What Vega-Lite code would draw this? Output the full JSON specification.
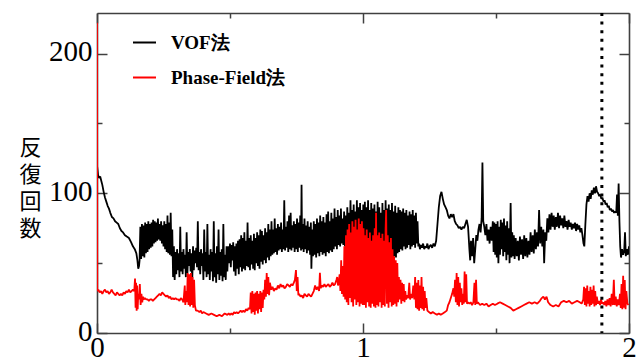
{
  "$schema": "https://vega.github.io/schema/vega-lite/v6.json",
  "width": 532,
  "height": 320,
  "autosize": {"type": "none"},
  "padding": {"left": 97, "top": 13, "right": 7, "bottom": 24},
  "background": "white",
  "config": {
    "view": {"stroke": null},
    "axis": {"domainColor": "#404040", "domainWidth": 1.6, "tickColor": "#404040", "tickWidth": 1.5, "grid": false, "labelFont": "Liberation Serif", "labelFontSize": 29, "labelColor": "black"}
  },
  "datasets": {
    "vof": [
      {"t":0,"n":120},{"t":0.004,"n":113},{"t":0.008,"n":111},{"t":0.012,"n":112},{"t":0.016,"n":109},{"t":0.02,"n":106},{"t":0.025,"n":101},{"t":0.03,"n":97},{"t":0.035,"n":94},{"t":0.04,"n":91},{"t":0.045,"n":89},{"t":0.05,"n":86},{"t":0.056,"n":83},{"t":0.062,"n":82},{"t":0.068,"n":80},{"t":0.074,"n":79},{"t":0.08,"n":78},{"t":0.086,"n":75},{"t":0.092,"n":73},{"t":0.098,"n":72},{"t":0.105,"n":70},{"t":0.112,"n":69},{"t":0.12,"n":68},{"t":0.128,"n":65},{"t":0.135,"n":62},{"t":0.142,"n":60},{"t":0.148,"n":57},{"t":0.152,"n":52},{"t":0.155,"n":46},{"t":0.158,"n":48},{"t":0.16,"n":52},
      {"t":0.163,"n":76},{"t":0.166,"n":53},{"t":0.169,"n":78},{"t":0.172,"n":55},{"t":0.175,"n":77},{"t":0.178,"n":54},{"t":0.181,"n":79},{"t":0.184,"n":57},{"t":0.187,"n":78},{"t":0.19,"n":58},{"t":0.193,"n":80},{"t":0.196,"n":60},{"t":0.199,"n":78},{"t":0.202,"n":61},{"t":0.205,"n":79},{"t":0.208,"n":62},{"t":0.211,"n":81},{"t":0.214,"n":64},{"t":0.217,"n":80},{"t":0.22,"n":65},{"t":0.223,"n":79},{"t":0.226,"n":66},{"t":0.229,"n":82},{"t":0.232,"n":67},{"t":0.235,"n":78},{"t":0.238,"n":66},{"t":0.241,"n":80},{"t":0.244,"n":64},{"t":0.247,"n":77},{"t":0.25,"n":62},{"t":0.253,"n":80},{"t":0.256,"n":60},{"t":0.259,"n":78},{"t":0.262,"n":58},{"t":0.265,"n":84},{"t":0.268,"n":57},{"t":0.271,"n":79},{"t":0.274,"n":56},{"t":0.277,"n":86},{"t":0.28,"n":55},{"t":0.283,"n":74},{"t":0.286,"n":40},{"t":0.289,"n":62},{"t":0.292,"n":38},
      {"t":0.295,"n":58},{"t":0.298,"n":42},{"t":0.301,"n":60},{"t":0.304,"n":45},{"t":0.307,"n":57},{"t":0.31,"n":40},{"t":0.313,"n":76},{"t":0.316,"n":44},{"t":0.319,"n":58},{"t":0.322,"n":42},{"t":0.325,"n":60},{"t":0.328,"n":46},{"t":0.331,"n":56},{"t":0.334,"n":40},{"t":0.337,"n":72},{"t":0.34,"n":43},{"t":0.343,"n":58},{"t":0.346,"n":48},{"t":0.349,"n":60},{"t":0.352,"n":44},{"t":0.355,"n":57},{"t":0.358,"n":37},{"t":0.361,"n":62},{"t":0.364,"n":45},{"t":0.367,"n":59},{"t":0.37,"n":50},{"t":0.373,"n":61},{"t":0.376,"n":47},{"t":0.379,"n":80},{"t":0.382,"n":45},{"t":0.385,"n":58},{"t":0.388,"n":42},{"t":0.391,"n":60},{"t":0.394,"n":48},{"t":0.397,"n":57},{"t":0.4,"n":38},{"t":0.403,"n":74},{"t":0.406,"n":44},{"t":0.409,"n":58},{"t":0.412,"n":40},{"t":0.415,"n":78},{"t":0.418,"n":42},{"t":0.421,"n":56},{"t":0.424,"n":38},{"t":0.427,"n":60},{"t":0.43,"n":44},{"t":0.433,"n":58},{"t":0.436,"n":37},{"t":0.439,"n":80},{"t":0.442,"n":40},{"t":0.445,"n":57},{"t":0.448,"n":36},{"t":0.451,"n":62},{"t":0.454,"n":42},{"t":0.457,"n":74},{"t":0.46,"n":38},{"t":0.463,"n":58},{"t":0.466,"n":41},{"t":0.469,"n":60},{"t":0.472,"n":37},{"t":0.475,"n":78},{"t":0.478,"n":40},{"t":0.481,"n":56},{"t":0.484,"n":38},{"t":0.487,"n":62},{"t":0.49,"n":44},
      {"t":0.494,"n":62},{"t":0.497,"n":50},{"t":0.5,"n":64},{"t":0.503,"n":47},{"t":0.506,"n":63},{"t":0.509,"n":52},{"t":0.512,"n":65},{"t":0.515,"n":44},{"t":0.518,"n":62},{"t":0.521,"n":41},{"t":0.524,"n":64},{"t":0.527,"n":46},{"t":0.53,"n":66},{"t":0.533,"n":42},{"t":0.536,"n":67},{"t":0.539,"n":47},{"t":0.542,"n":70},{"t":0.545,"n":44},{"t":0.548,"n":68},{"t":0.551,"n":46},{"t":0.554,"n":72},{"t":0.557,"n":45},{"t":0.56,"n":66},{"t":0.563,"n":48},{"t":0.566,"n":79},{"t":0.569,"n":47},{"t":0.572,"n":68},{"t":0.575,"n":45},{"t":0.578,"n":70},{"t":0.581,"n":49},{"t":0.584,"n":66},{"t":0.587,"n":46},{"t":0.59,"n":71},{"t":0.593,"n":45},{"t":0.596,"n":68},{"t":0.599,"n":50},{"t":0.602,"n":72},{"t":0.605,"n":48},{"t":0.608,"n":70},{"t":0.611,"n":46},{"t":0.614,"n":74},{"t":0.617,"n":51},{"t":0.62,"n":73},{"t":0.623,"n":49},{"t":0.626,"n":70},{"t":0.629,"n":52},{"t":0.632,"n":75},{"t":0.635,"n":50},{"t":0.638,"n":72},{"t":0.641,"n":54},{"t":0.644,"n":78},{"t":0.647,"n":52},{"t":0.65,"n":74},{"t":0.653,"n":55},{"t":0.656,"n":80},{"t":0.659,"n":56},{"t":0.662,"n":74},{"t":0.665,"n":57},{"t":0.668,"n":82},{"t":0.671,"n":58},{"t":0.674,"n":75},{"t":0.677,"n":56},{"t":0.68,"n":78},{"t":0.683,"n":59},{"t":0.686,"n":76},{"t":0.689,"n":60},{"t":0.692,"n":79},{"t":0.695,"n":58},{"t":0.698,"n":74},{"t":0.701,"n":60},{"t":0.704,"n":95},{"t":0.707,"n":59},{"t":0.71,"n":76},{"t":0.713,"n":61},{"t":0.716,"n":80},{"t":0.719,"n":58},{"t":0.722,"n":84},{"t":0.725,"n":60},{"t":0.728,"n":86},{"t":0.731,"n":59},{"t":0.734,"n":77},{"t":0.737,"n":61},{"t":0.74,"n":80},{"t":0.743,"n":58},
      {"t":0.746,"n":78},{"t":0.749,"n":60},{"t":0.752,"n":82},{"t":0.755,"n":58},{"t":0.758,"n":79},{"t":0.761,"n":61},{"t":0.764,"n":84},{"t":0.767,"n":59},{"t":0.769,"n":106},{"t":0.771,"n":60},{"t":0.774,"n":78},{"t":0.777,"n":58},{"t":0.78,"n":82},{"t":0.783,"n":60},{"t":0.786,"n":77},{"t":0.789,"n":57},{"t":0.792,"n":80},{"t":0.795,"n":59},{"t":0.798,"n":76},{"t":0.801,"n":56},{"t":0.804,"n":79},{"t":0.806,"n":46},{"t":0.809,"n":74},{"t":0.812,"n":55},{"t":0.815,"n":80},{"t":0.818,"n":56},{"t":0.821,"n":78},{"t":0.824,"n":54},{"t":0.827,"n":82},{"t":0.83,"n":57},{"t":0.833,"n":79},{"t":0.836,"n":55},{"t":0.839,"n":84},{"t":0.842,"n":58},{"t":0.845,"n":80},{"t":0.848,"n":56},{"t":0.851,"n":83},{"t":0.854,"n":57},{"t":0.857,"n":79},{"t":0.86,"n":55},{"t":0.863,"n":85},{"t":0.866,"n":58},{"t":0.869,"n":87},{"t":0.872,"n":57},{"t":0.875,"n":80},{"t":0.878,"n":59},{"t":0.881,"n":86},{"t":0.884,"n":58},{"t":0.887,"n":82},{"t":0.89,"n":60},{"t":0.893,"n":89},{"t":0.896,"n":62},{"t":0.899,"n":83},{"t":0.902,"n":60},{"t":0.905,"n":88},{"t":0.908,"n":63},{"t":0.911,"n":84},{"t":0.914,"n":62},{"t":0.917,"n":89},{"t":0.92,"n":64},{"t":0.923,"n":82},{"t":0.926,"n":63},{"t":0.929,"n":87},{"t":0.932,"n":62},{"t":0.935,"n":84},{"t":0.938,"n":64},{"t":0.941,"n":90},{"t":0.944,"n":62},{"t":0.947,"n":86},{"t":0.95,"n":61},{"t":0.953,"n":95},{"t":0.956,"n":60},{"t":0.959,"n":88},{"t":0.962,"n":62},{"t":0.965,"n":92},{"t":0.968,"n":60},{"t":0.971,"n":87},{"t":0.974,"n":61},{"t":0.977,"n":95},{"t":0.98,"n":60},{"t":0.983,"n":90},{"t":0.986,"n":58},{"t":0.989,"n":93},{"t":0.992,"n":56},{"t":0.995,"n":88},{"t":0.998,"n":54},
      {"t":1.001,"n":92},{"t":1.004,"n":50},{"t":1.007,"n":94},{"t":1.01,"n":49},{"t":1.013,"n":90},{"t":1.016,"n":52},{"t":1.019,"n":95},{"t":1.022,"n":48},{"t":1.025,"n":88},{"t":1.028,"n":51},{"t":1.031,"n":93},{"t":1.034,"n":49},{"t":1.037,"n":89},{"t":1.04,"n":53},{"t":1.043,"n":92},{"t":1.046,"n":50},{"t":1.049,"n":87},{"t":1.052,"n":51},{"t":1.055,"n":94},{"t":1.058,"n":49},{"t":1.061,"n":90},{"t":1.064,"n":52},{"t":1.067,"n":86},{"t":1.07,"n":50},{"t":1.073,"n":93},{"t":1.076,"n":51},{"t":1.079,"n":88},{"t":1.082,"n":53},{"t":1.085,"n":95},{"t":1.088,"n":50},{"t":1.091,"n":89},{"t":1.094,"n":52},{"t":1.097,"n":92},{"t":1.1,"n":51},{"t":1.103,"n":88},{"t":1.106,"n":54},{"t":1.109,"n":93},{"t":1.112,"n":53},{"t":1.115,"n":87},{"t":1.118,"n":55},{"t":1.121,"n":91},{"t":1.124,"n":54},{"t":1.127,"n":86},{"t":1.13,"n":57},{"t":1.133,"n":90},{"t":1.136,"n":58},{"t":1.139,"n":88},{"t":1.142,"n":60},{"t":1.145,"n":87},{"t":1.148,"n":59},{"t":1.151,"n":89},{"t":1.154,"n":62},{"t":1.157,"n":86},{"t":1.16,"n":60},{"t":1.163,"n":88},{"t":1.166,"n":61},{"t":1.169,"n":84},{"t":1.172,"n":63},{"t":1.175,"n":87},{"t":1.178,"n":60},{"t":1.181,"n":85},{"t":1.184,"n":62},{"t":1.187,"n":88},{"t":1.19,"n":63},{"t":1.193,"n":84},{"t":1.196,"n":61},{"t":1.199,"n":86},{"t":1.202,"n":64},{"t":1.205,"n":80},{"t":1.208,"n":62},
      {"t":1.211,"n":64},{"t":1.214,"n":60},{"t":1.218,"n":63},{"t":1.222,"n":61},{"t":1.226,"n":64},{"t":1.23,"n":60},{"t":1.234,"n":62},{"t":1.238,"n":61},{"t":1.242,"n":64},{"t":1.246,"n":60},{"t":1.25,"n":62},{"t":1.255,"n":63},{"t":1.26,"n":61},{"t":1.265,"n":64},{"t":1.27,"n":62},{"t":1.275,"n":66},{"t":1.28,"n":78},{"t":1.285,"n":90},{"t":1.29,"n":98},{"t":1.295,"n":101},{"t":1.3,"n":96},{"t":1.305,"n":92},{"t":1.31,"n":90},{"t":1.315,"n":88},{"t":1.32,"n":84},{"t":1.325,"n":82},{"t":1.33,"n":85},{"t":1.335,"n":83},{"t":1.34,"n":85},{"t":1.345,"n":80},{"t":1.35,"n":78},{"t":1.355,"n":77},{"t":1.36,"n":75},{"t":1.365,"n":76},{"t":1.37,"n":74},{"t":1.375,"n":76},{"t":1.38,"n":75},{"t":1.385,"n":78},{"t":1.39,"n":81},{"t":1.395,"n":76},{"t":1.4,"n":60},{"t":1.403,"n":52},{"t":1.406,"n":66},{"t":1.41,"n":55},{"t":1.414,"n":68},{"t":1.418,"n":50},{"t":1.422,"n":60},{"t":1.426,"n":70},{"t":1.43,"n":66},{"t":1.434,"n":74},{"t":1.438,"n":78},{"t":1.442,"n":72},{"t":1.446,"n":82},{"t":1.449,"n":122},{"t":1.452,"n":80},{"t":1.456,"n":76},{"t":1.46,"n":70},{"t":1.464,"n":78},{"t":1.468,"n":66},{"t":1.472,"n":74},{"t":1.476,"n":64},{"t":1.48,"n":76},{"t":1.484,"n":66},
      {"t":1.488,"n":80},{"t":1.491,"n":58},{"t":1.494,"n":79},{"t":1.497,"n":56},{"t":1.5,"n":78},{"t":1.503,"n":54},{"t":1.506,"n":80},{"t":1.509,"n":50},{"t":1.512,"n":76},{"t":1.515,"n":56},{"t":1.518,"n":81},{"t":1.521,"n":60},{"t":1.524,"n":79},{"t":1.527,"n":55},{"t":1.53,"n":82},{"t":1.533,"n":58},{"t":1.536,"n":77},{"t":1.539,"n":52},{"t":1.542,"n":80},{"t":1.545,"n":56},{"t":1.548,"n":75},{"t":1.551,"n":50},{"t":1.555,"n":93},{"t":1.558,"n":54},{"t":1.561,"n":72},{"t":1.564,"n":55},{"t":1.567,"n":70},{"t":1.57,"n":53},{"t":1.574,"n":68},{"t":1.578,"n":55},{"t":1.582,"n":66},{"t":1.586,"n":52},{"t":1.59,"n":69},{"t":1.594,"n":56},{"t":1.598,"n":67},{"t":1.602,"n":53},{"t":1.606,"n":70},{"t":1.61,"n":55},{"t":1.614,"n":68},{"t":1.618,"n":54},{"t":1.622,"n":66},{"t":1.626,"n":56},{"t":1.63,"n":72},{"t":1.634,"n":58},{"t":1.638,"n":70},{"t":1.642,"n":57},{"t":1.646,"n":74},{"t":1.65,"n":60},{"t":1.654,"n":72},{"t":1.658,"n":62},{"t":1.662,"n":88},{"t":1.666,"n":64},{"t":1.67,"n":76},{"t":1.674,"n":62},{"t":1.678,"n":74},{"t":1.681,"n":50},{"t":1.685,"n":72},{"t":1.689,"n":66},{"t":1.693,"n":82},{"t":1.697,"n":72},{"t":1.701,"n":85},{"t":1.705,"n":74},{"t":1.709,"n":86},{"t":1.713,"n":76},{"t":1.717,"n":84},{"t":1.721,"n":74},{"t":1.725,"n":83},{"t":1.729,"n":76},{"t":1.733,"n":86},{"t":1.737,"n":75},{"t":1.741,"n":84},{"t":1.745,"n":77},{"t":1.749,"n":82},{"t":1.753,"n":75},{"t":1.757,"n":84},{"t":1.761,"n":76},{"t":1.765,"n":80},{"t":1.769,"n":74},{"t":1.773,"n":81},{"t":1.777,"n":76},{"t":1.781,"n":79},{"t":1.785,"n":74},{"t":1.789,"n":78},{"t":1.793,"n":75},{"t":1.797,"n":79},{"t":1.801,"n":73},{"t":1.805,"n":78},{"t":1.809,"n":74},{"t":1.813,"n":77},{"t":1.817,"n":72},{"t":1.821,"n":75},{"t":1.825,"n":70},{"t":1.829,"n":64},{"t":1.832,"n":62},{"t":1.836,"n":78},{"t":1.84,"n":92},{"t":1.844,"n":98},{"t":1.848,"n":94},{"t":1.852,"n":100},{"t":1.856,"n":96},{"t":1.86,"n":102},{"t":1.864,"n":99},{"t":1.868,"n":104},{"t":1.872,"n":100},{"t":1.876,"n":105},{"t":1.88,"n":101},{"t":1.884,"n":100},{"t":1.888,"n":98},{"t":1.892,"n":99},{"t":1.896,"n":96},{"t":1.9,"n":97},{"t":1.904,"n":94},{"t":1.908,"n":95},{"t":1.912,"n":92},{"t":1.916,"n":93},{"t":1.92,"n":90},{"t":1.924,"n":91},{"t":1.928,"n":88},{"t":1.932,"n":89},{"t":1.936,"n":87},{"t":1.94,"n":88},{"t":1.944,"n":86},{"t":1.948,"n":87},{"t":1.952,"n":86},{"t":1.955,"n":99},{"t":1.958,"n":84},{"t":1.961,"n":107},{"t":1.964,"n":80},{"t":1.967,"n":62},{"t":1.97,"n":54},{"t":1.974,"n":60},{"t":1.978,"n":56},{"t":1.982,"n":59},{"t":1.985,"n":72},{"t":1.988,"n":55},{"t":1.992,"n":60},{"t":1.996,"n":56},{"t":2.0,"n":62}
    ],
    "pf": [
      {"t":0,"n":222},{"t":0.001,"n":30},{"t":0.005,"n":31},{"t":0.01,"n":29},{"t":0.015,"n":30},{"t":0.02,"n":28},{"t":0.025,"n":30},{"t":0.03,"n":31},{"t":0.035,"n":29},{"t":0.04,"n":30},{"t":0.045,"n":28},{"t":0.05,"n":29},{"t":0.055,"n":31},{"t":0.06,"n":29},{"t":0.065,"n":28},{"t":0.07,"n":27},{"t":0.075,"n":29},{"t":0.08,"n":28},{"t":0.085,"n":27},{"t":0.09,"n":28},{"t":0.095,"n":27},{"t":0.1,"n":29},{"t":0.105,"n":28},{"t":0.11,"n":30},{"t":0.115,"n":29},{"t":0.12,"n":31},{"t":0.125,"n":29},{"t":0.13,"n":30},{"t":0.135,"n":31},{"t":0.14,"n":30},{"t":0.143,"n":39},{"t":0.145,"n":18},{"t":0.147,"n":36},{"t":0.149,"n":16},{"t":0.151,"n":34},{"t":0.153,"n":17},{"t":0.155,"n":28},{"t":0.158,"n":24},{"t":0.161,"n":35},{"t":0.164,"n":20},{"t":0.167,"n":28},{"t":0.17,"n":22},{"t":0.173,"n":26},{"t":0.176,"n":24},{"t":0.18,"n":25},{"t":0.185,"n":24},{"t":0.19,"n":24},{"t":0.195,"n":23},{"t":0.2,"n":24},{"t":0.205,"n":24},{"t":0.21,"n":23},{"t":0.215,"n":24},{"t":0.22,"n":25},{"t":0.225,"n":26},{"t":0.23,"n":27},{"t":0.235,"n":28},{"t":0.24,"n":27},{"t":0.245,"n":29},{"t":0.25,"n":28},{"t":0.255,"n":27},{"t":0.26,"n":26},{"t":0.265,"n":27},{"t":0.27,"n":25},{"t":0.275,"n":26},{"t":0.28,"n":24},{"t":0.285,"n":25},{"t":0.29,"n":24},{"t":0.295,"n":25},{"t":0.3,"n":24},{"t":0.305,"n":24},{"t":0.31,"n":23},{"t":0.315,"n":25},{"t":0.32,"n":24},{"t":0.325,"n":22},{"t":0.33,"n":34},{"t":0.332,"n":20},{"t":0.335,"n":30},{"t":0.338,"n":22},{"t":0.341,"n":43},{"t":0.344,"n":20},{"t":0.347,"n":42},{"t":0.35,"n":19},{"t":0.353,"n":43},{"t":0.356,"n":20},{"t":0.359,"n":40},{"t":0.362,"n":18},{"t":0.365,"n":38},{"t":0.368,"n":20},{"t":0.372,"n":16},{"t":0.378,"n":16},{"t":0.385,"n":15},{"t":0.39,"n":16},{"t":0.395,"n":14},{"t":0.4,"n":15},{"t":0.41,"n":14},{"t":0.42,"n":13},{"t":0.43,"n":14},{"t":0.44,"n":13},{"t":0.45,"n":12},{"t":0.46,"n":13},{"t":0.47,"n":12},{"t":0.48,"n":14},{"t":0.49,"n":13},
      {"t":0.495,"n":14},{"t":0.5,"n":13},{"t":0.505,"n":14},{"t":0.51,"n":13},{"t":0.515,"n":15},{"t":0.52,"n":14},{"t":0.525,"n":15},{"t":0.53,"n":14},{"t":0.535,"n":15},{"t":0.54,"n":16},{"t":0.545,"n":15},{"t":0.55,"n":16},{"t":0.555,"n":15},{"t":0.56,"n":17},{"t":0.565,"n":16},{"t":0.57,"n":18},{"t":0.575,"n":17},{"t":0.578,"n":29},{"t":0.581,"n":14},{"t":0.584,"n":30},{"t":0.587,"n":15},{"t":0.59,"n":28},{"t":0.593,"n":13},{"t":0.596,"n":29},{"t":0.599,"n":16},{"t":0.602,"n":30},{"t":0.605,"n":14},{"t":0.608,"n":28},{"t":0.611,"n":17},{"t":0.614,"n":30},{"t":0.617,"n":15},{"t":0.62,"n":29},{"t":0.623,"n":18},{"t":0.626,"n":31},{"t":0.629,"n":24},{"t":0.632,"n":38},{"t":0.635,"n":26},{"t":0.638,"n":43},{"t":0.641,"n":28},{"t":0.644,"n":40},{"t":0.647,"n":27},{"t":0.65,"n":36},{"t":0.655,"n":31},{"t":0.66,"n":33},{"t":0.665,"n":30},{"t":0.67,"n":32},{"t":0.675,"n":31},{"t":0.68,"n":34},{"t":0.685,"n":32},{"t":0.69,"n":35},{"t":0.695,"n":33},{"t":0.7,"n":34},{"t":0.705,"n":32},{"t":0.71,"n":33},{"t":0.715,"n":35},{"t":0.72,"n":34},{"t":0.725,"n":33},{"t":0.73,"n":35},{"t":0.735,"n":34},{"t":0.74,"n":36},{"t":0.744,"n":38},{"t":0.748,"n":45},{"t":0.751,"n":30},{"t":0.754,"n":40},{"t":0.757,"n":27},{"t":0.76,"n":28},{"t":0.765,"n":26},{"t":0.77,"n":27},{"t":0.775,"n":25},{"t":0.78,"n":28},{"t":0.785,"n":27},{"t":0.79,"n":26},{"t":0.795,"n":28},{"t":0.8,"n":27},{"t":0.805,"n":26},{"t":0.81,"n":28},{"t":0.815,"n":30},{"t":0.82,"n":34},{"t":0.825,"n":31},{"t":0.83,"n":33},{"t":0.835,"n":30},{"t":0.838,"n":43},{"t":0.841,"n":32},{"t":0.845,"n":34},{"t":0.85,"n":33},{"t":0.855,"n":35},{"t":0.86,"n":33},{"t":0.865,"n":34},{"t":0.87,"n":35},{"t":0.875,"n":33},{"t":0.88,"n":34},{"t":0.885,"n":36},{"t":0.89,"n":34},{"t":0.895,"n":35},{"t":0.9,"n":38},{"t":0.903,"n":40},{"t":0.906,"n":34},{"t":0.909,"n":36},{"t":0.912,"n":42},{"t":0.915,"n":30},{"t":0.918,"n":52},{"t":0.921,"n":28},{"t":0.924,"n":48},{"t":0.927,"n":26},{"t":0.93,"n":62},{"t":0.933,"n":24},{"t":0.936,"n":70},{"t":0.939,"n":22},{"t":0.942,"n":74},{"t":0.945,"n":20},{"t":0.948,"n":78},{"t":0.951,"n":25},{"t":0.954,"n":72},{"t":0.957,"n":22},{"t":0.96,"n":80},{"t":0.963,"n":19},{"t":0.966,"n":76},{"t":0.969,"n":24},{"t":0.972,"n":81},{"t":0.975,"n":20},{"t":0.978,"n":74},{"t":0.981,"n":22},{"t":0.984,"n":82},{"t":0.987,"n":19},{"t":0.99,"n":78},{"t":0.993,"n":21},{"t":0.996,"n":80},{"t":0.999,"n":20},
      {"t":1.002,"n":75},{"t":1.005,"n":20},{"t":1.008,"n":70},{"t":1.011,"n":18},{"t":1.014,"n":74},{"t":1.017,"n":22},{"t":1.02,"n":68},{"t":1.023,"n":19},{"t":1.026,"n":72},{"t":1.029,"n":18},{"t":1.032,"n":66},{"t":1.035,"n":21},{"t":1.038,"n":70},{"t":1.041,"n":19},{"t":1.044,"n":75},{"t":1.047,"n":18},{"t":1.049,"n":86},{"t":1.052,"n":20},{"t":1.055,"n":70},{"t":1.058,"n":19},{"t":1.061,"n":72},{"t":1.064,"n":22},{"t":1.067,"n":68},{"t":1.07,"n":18},{"t":1.073,"n":71},{"t":1.076,"n":20},{"t":1.079,"n":66},{"t":1.082,"n":19},{"t":1.085,"n":74},{"t":1.087,"n":88},{"t":1.09,"n":21},{"t":1.093,"n":70},{"t":1.096,"n":18},{"t":1.099,"n":65},{"t":1.102,"n":22},{"t":1.105,"n":68},{"t":1.108,"n":19},{"t":1.111,"n":60},{"t":1.114,"n":20},{"t":1.117,"n":55},{"t":1.12,"n":21},{"t":1.123,"n":52},{"t":1.126,"n":19},{"t":1.129,"n":50},{"t":1.132,"n":22},{"t":1.135,"n":40},{"t":1.138,"n":24},{"t":1.141,"n":38},{"t":1.144,"n":21},{"t":1.147,"n":36},{"t":1.15,"n":23},{"t":1.153,"n":35},{"t":1.156,"n":22},{"t":1.159,"n":30},{"t":1.162,"n":24},{"t":1.166,"n":27},{"t":1.17,"n":25},{"t":1.174,"n":36},{"t":1.177,"n":24},{"t":1.181,"n":28},{"t":1.185,"n":25},{"t":1.189,"n":34},{"t":1.193,"n":24},{"t":1.196,"n":40},{"t":1.199,"n":18},{"t":1.202,"n":36},{"t":1.205,"n":17},{"t":1.208,"n":38},{"t":1.211,"n":16},{"t":1.214,"n":34},{"t":1.217,"n":18},{"t":1.22,"n":40},{"t":1.223,"n":17},{"t":1.226,"n":33},{"t":1.229,"n":16},{"t":1.232,"n":30},{"t":1.235,"n":18},{"t":1.238,"n":25},{"t":1.242,"n":16},{"t":1.248,"n":15},{"t":1.255,"n":14},{"t":1.262,"n":15},{"t":1.27,"n":14},{"t":1.278,"n":13},{"t":1.285,"n":14},{"t":1.292,"n":13},{"t":1.3,"n":14},{"t":1.308,"n":15},{"t":1.315,"n":16},{"t":1.32,"n":20},{"t":1.325,"n":22},{"t":1.33,"n":25},{"t":1.335,"n":28},{"t":1.34,"n":32},{"t":1.343,"n":26},{"t":1.346,"n":38},{"t":1.349,"n":22},{"t":1.352,"n":43},{"t":1.355,"n":20},{"t":1.358,"n":40},{"t":1.361,"n":19},{"t":1.364,"n":36},{"t":1.367,"n":22},{"t":1.37,"n":32},{"t":1.373,"n":20},{"t":1.376,"n":28},{"t":1.379,"n":21},{"t":1.382,"n":44},{"t":1.385,"n":22},{"t":1.388,"n":42},{"t":1.391,"n":21},{"t":1.395,"n":22},{"t":1.4,"n":21},{"t":1.405,"n":22},{"t":1.41,"n":20},{"t":1.415,"n":22},{"t":1.419,"n":36},{"t":1.422,"n":20},{"t":1.425,"n":38},{"t":1.428,"n":21},{"t":1.432,"n":22},{"t":1.44,"n":20},{"t":1.448,"n":21},{"t":1.456,"n":20},{"t":1.464,"n":21},{"t":1.472,"n":19},{"t":1.48,"n":20},{"t":1.488,"n":21},{"t":1.496,"n":20},
      {"t":1.505,"n":21},{"t":1.515,"n":22},{"t":1.525,"n":21},{"t":1.535,"n":20},{"t":1.545,"n":19},{"t":1.555,"n":18},{"t":1.565,"n":16},{"t":1.575,"n":17},{"t":1.585,"n":18},{"t":1.595,"n":19},{"t":1.605,"n":20},{"t":1.615,"n":21},{"t":1.625,"n":22},{"t":1.635,"n":21},{"t":1.645,"n":22},{"t":1.655,"n":21},{"t":1.665,"n":23},{"t":1.672,"n":25},{"t":1.678,"n":26},{"t":1.684,"n":24},{"t":1.69,"n":26},{"t":1.696,"n":22},{"t":1.705,"n":20},{"t":1.715,"n":19},{"t":1.725,"n":20},{"t":1.735,"n":19},{"t":1.745,"n":22},{"t":1.755,"n":23},{"t":1.765,"n":22},{"t":1.775,"n":23},{"t":1.785,"n":21},{"t":1.795,"n":22},{"t":1.805,"n":23},{"t":1.815,"n":22},{"t":1.822,"n":21},{"t":1.828,"n":24},{"t":1.831,"n":33},{"t":1.834,"n":20},{"t":1.837,"n":32},{"t":1.84,"n":19},{"t":1.843,"n":34},{"t":1.846,"n":21},{"t":1.849,"n":30},{"t":1.852,"n":19},{"t":1.855,"n":33},{"t":1.858,"n":20},{"t":1.861,"n":31},{"t":1.864,"n":21},{"t":1.867,"n":34},{"t":1.87,"n":19},{"t":1.873,"n":30},{"t":1.876,"n":20},{"t":1.879,"n":26},{"t":1.883,"n":21},{"t":1.887,"n":23},{"t":1.891,"n":20},{"t":1.895,"n":24},{"t":1.899,"n":21},{"t":1.903,"n":22},{"t":1.907,"n":20},{"t":1.911,"n":23},{"t":1.915,"n":19},{"t":1.919,"n":24},{"t":1.923,"n":20},{"t":1.927,"n":25},{"t":1.931,"n":19},{"t":1.935,"n":28},{"t":1.939,"n":20},{"t":1.943,"n":38},{"t":1.946,"n":20},{"t":1.95,"n":26},{"t":1.954,"n":19},{"t":1.958,"n":24},{"t":1.962,"n":20},{"t":1.966,"n":28},{"t":1.969,"n":18},{"t":1.972,"n":35},{"t":1.975,"n":17},{"t":1.978,"n":41},{"t":1.981,"n":18},{"t":1.984,"n":38},{"t":1.987,"n":17},{"t":1.99,"n":30},{"t":1.994,"n":21},{"t":1.998,"n":20}
    ]
  },
  "layer": [
    {
      "data": {"name": "vof"},
      "mark": {"type": "line", "strokeWidth": 1.8, "strokeJoin": "bevel", "clip": true},
      "encoding": {
        "x": {"field": "t", "type": "quantitative", "scale": {"domain": [0, 2], "nice": false, "zero": false},
          "axis": {"orient": "bottom", "title": null, "values": [0, 0.5, 1, 1.5, 2], "labelExpr": "datum.value % 1 === 0 ? format(datum.value, 'd') : ''", "tickSize": {"condition": {"test": "datum.value % 1 === 0", "value": -10}, "value": -5}, "labelPadding": 10, "labelFlush": false, "labelOverlap": false}},
        "y": {"field": "n", "type": "quantitative", "scale": {"domain": [0, 229], "nice": false},
          "axis": {"orient": "left", "values": [0, 50, 100, 150, 200], "labelExpr": "datum.value % 100 === 0 ? format(datum.value, 'd') : ''", "tickSize": {"condition": {"test": "datum.value % 100 === 0", "value": -10}, "value": -5}, "labelPadding": 15, "labelOverlap": false, "labelBaseline": "middle", "labelOffset": -2,
            "title": ["反", "復", "回", "数"], "titleAngle": 0, "titleX": -67, "titleY": 124, "titleBaseline": "top", "titleAlign": "center", "titleFont": "Noto Sans CJK JP", "titleFontSize": 22, "titleFontWeight": "normal", "titleLineHeight": 27, "titleColor": "black"}},
        "color": {"datum": "VOF法", "type": "nominal", "scale": {"domain": ["VOF法", "Phase-Field法"], "range": ["black", "red"]},
          "legend": {"orient": "none", "legendX": 35, "legendY": 17, "title": null, "symbolType": "stroke", "symbolSize": 529, "symbolStrokeWidth": 2, "labelFont": "Liberation Serif", "labelFontWeight": "bold", "labelFontSize": 19, "labelColor": "black", "labelOffset": 14, "rowPadding": 12, "padding": 0}}
      }
    },
    {
      "data": {"name": "pf"},
      "mark": {"type": "line", "strokeWidth": 1.8, "strokeJoin": "bevel", "clip": true},
      "encoding": {
        "x": {"field": "t", "type": "quantitative",
          "axis": {"orient": "top", "title": null, "values": [0, 0.5, 1, 1.5, 2], "labels": false, "tickSize": {"condition": {"test": "datum.value % 1 === 0", "value": -10}, "value": -5}}},
        "y": {"field": "n", "type": "quantitative",
          "axis": {"orient": "right", "title": null, "values": [0, 50, 100, 150, 200], "labels": false, "tickSize": {"condition": {"test": "datum.value % 100 === 0", "value": -10}, "value": -5}}},
        "color": {"datum": "Phase-Field法", "type": "nominal"}
      }
    },
    {
      "data": {"values": [{"t": 1.898}]},
      "mark": {"type": "rule", "color": "black", "strokeWidth": 3, "strokeDash": [3, 5.6]},
      "encoding": {
        "x": {"field": "t", "type": "quantitative", "axis": null}
      }
    }
  ],
  "resolve": {"axis": {"x": "independent", "y": "independent"}}
}
